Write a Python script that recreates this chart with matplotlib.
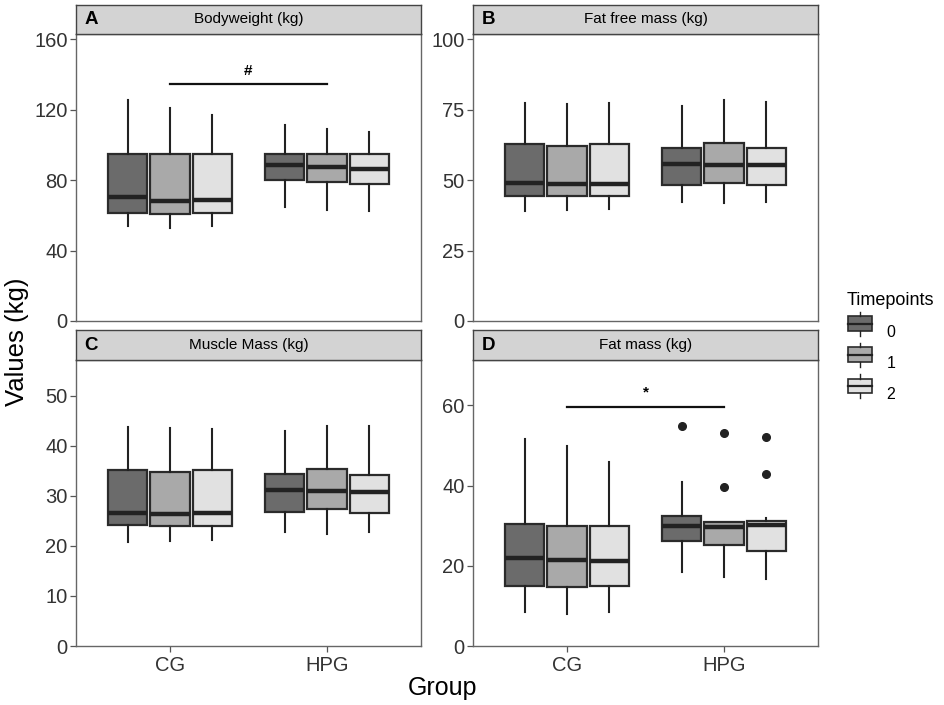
import matplotlib
matplotlib.use("Agg")
import matplotlib.pyplot as plt
from matplotlib.legend_handler import HandlerBase
from matplotlib.patches import Rectangle
from matplotlib.lines import Line2D

plt.rcParams['font.family'] = ['Liberation Sans', 'DejaVu Sans']

groups = ["CG", "HPG"]
timepoints = ["0", "1", "2"]
fills = ["#6b6b6b", "#a9a9a9", "#e1e1e1"]

# order of values: CG-0, CG-1, CG-2, HPG-0, HPG-1, HPG-2
bw_lo = [53.9, 52.8, 54.1, 64.5, 63.0, 62.2]
bw_q1 = [61.5, 60.7, 61.5, 80.2, 78.9, 77.9]
bw_med = [70.2, 68.3, 68.7, 88.7, 87.4, 86.6]
bw_q3 = [94.8, 95.1, 94.9, 94.9, 94.9, 95.1]
bw_hi = [125.4, 121.2, 116.9, 111.2, 108.9, 107.2]

ffm_lo = [38.9, 39.2, 39.7, 42.2, 41.8, 42.2]
ffm_q1 = [44.3, 44.2, 44.3, 48.2, 49.0, 48.2]
ffm_med = [48.9, 48.5, 48.7, 55.8, 55.3, 55.2]
ffm_q3 = [62.8, 62.1, 62.7, 61.5, 63.0, 61.3]
ffm_hi = [77.5, 76.9, 77.3, 76.1, 78.3, 77.8]

mm_lo = [20.7, 20.9, 21.2, 22.7, 22.4, 22.7]
mm_q1 = [24.1, 23.9, 24.0, 26.7, 27.3, 26.6]
mm_med = [26.6, 26.3, 26.5, 31.1, 30.9, 30.7]
mm_q3 = [35.2, 34.7, 35.2, 34.4, 35.4, 34.2]
mm_hi = [43.7, 43.6, 43.4, 42.9, 43.9, 43.9]

fm_lo = [8.6, 8.1, 8.4, 18.4, 17.3, 16.8]
fm_q1 = [15.0, 14.6, 14.9, 26.2, 25.1, 23.7]
fm_med = [22.0, 21.4, 21.1, 29.8, 29.7, 30.1]
fm_q3 = [30.3, 30.0, 30.0, 32.3, 30.8, 31.2]
fm_hi = [51.5, 49.9, 45.9, 41.0, 30.8, 31.8]
fm_out = [[], [], [], [54.9], [53.1, 39.7], [52.0, 42.9]]

panels = [
    ("A", "Bodyweight (kg)", (bw_lo, bw_q1, bw_med, bw_q3, bw_hi), None,
     163, [0, 40, 80, 120, 160], ("#", 134.6, 141.8)),
    ("B", "Fat free mass (kg)", (ffm_lo, ffm_q1, ffm_med, ffm_q3, ffm_hi), None,
     101.8, [0, 25, 50, 75, 100], None),
    ("C", "Muscle Mass (kg)", (mm_lo, mm_q1, mm_med, mm_q3, mm_hi), None,
     57.1, [0, 10, 20, 30, 40, 50], None),
    ("D", "Fat mass (kg)", (fm_lo, fm_q1, fm_med, fm_q3, fm_hi), fm_out,
     71.3, [0, 20, 40, 60], ("*", 59.6, 63.3)),
]

W, H = 945, 705
panel_px = [(76, 34, 421, 321, 5), (473, 34, 818, 321, 5),
            (76, 360, 421, 646, 330), (473, 360, 818, 646, 330)]

offsets = [-0.27, 0.0, 0.27]
edge = "#2b2b2b"

fig = plt.figure(figsize=(W / 100, H / 100), dpi=100)

for i, (letter, title, st, outs, ytop, yt, sig) in enumerate(panels):
    x0, y0, x1, y1, s0 = panel_px[i]
    ax = fig.add_axes([x0 / W, 1 - y1 / H, (x1 - x0) / W, (y1 - y0) / H])
    lo, q1, med, q3, hi = st
    for k in range(6):
        g, t = divmod(k, 3)
        stats = [dict(whislo=lo[k], q1=q1[k], med=med[k], q3=q3[k], whishi=hi[k],
                      fliers=outs[k] if outs else [])]
        ax.bxp(stats, positions=[g + 1 + offsets[t]], widths=0.25,
               patch_artist=True, showcaps=False,
               boxprops=dict(facecolor=fills[t], edgecolor=edge, linewidth=1.6),
               medianprops=dict(color="#222222", linewidth=3.2, solid_capstyle="butt"),
               whiskerprops=dict(color="#222222", linewidth=1.5),
               flierprops=dict(marker="o", markerfacecolor="#222222",
                               markeredgecolor="#222222", markersize=5.5))
    if sig:
        ax.plot([1, 2], [sig[1], sig[1]], color="#111111", lw=1.6)
        ax.text(1.5, sig[2], sig[0], ha="center", va="center", fontsize=11,
                fontweight="bold")
    ax.set_xlim(0.4, 2.6)
    ax.set_ylim(0, ytop)
    ax.set_yticks(yt)
    ax.set_yticklabels([str(v) for v in yt], fontsize=14.5, color="#333333")
    ax.tick_params(axis="y", length=4, color="#555555", width=0.9, pad=2)
    if i >= 2:
        ax.set_xticks([1, 2])
        ax.set_xticklabels(groups, fontsize=14.5, color="#333333")
        ax.tick_params(axis="x", length=4, color="#555555", width=0.9, pad=3)
    else:
        ax.set_xticks([])
    for sp in ax.spines.values():
        sp.set_color("#666666")
        sp.set_linewidth(1.0)

    sax = fig.add_axes([x0 / W, 1 - y0 / H, (x1 - x0) / W, (y0 - s0) / H])
    sax.set_facecolor("#d3d3d3")
    sax.set_xticks([])
    sax.set_yticks([])
    for sp in sax.spines.values():
        sp.set_color("#444444")
        sp.set_linewidth(1.0)
    sax.text(0.5, 0.5, title, ha="center", va="center", fontsize=11,
             transform=sax.transAxes)
    sax.text(0.025, 0.5, letter, ha="left", va="center", fontsize=13.5,
             fontweight="bold", transform=sax.transAxes)

fig.text(17 / W, 1 - 342 / H, "Values (kg)", rotation=90, ha="center",
         va="center", fontsize=18.5)
fig.text(443 / W, 1 - 688 / H, "Group", ha="center", va="center", fontsize=18)


class BoxKey(HandlerBase):
    def create_artists(self, legend, orig, xd, yd, width, height, fontsize, trans):
        fc = orig.get_facecolor()
        cx = xd + width / 2
        r = Rectangle((xd + 1, yd + height * 0.1), width - 2, height * 0.8,
                      facecolor=fc, edgecolor=edge, linewidth=1.2, transform=trans)
        m = Line2D([xd + 1, xd + width - 1], [yd + height / 2] * 2, color="#222222",
                   lw=1.6, transform=trans)
        w1 = Line2D([cx, cx], [yd + height * 0.9, yd + height * 1.15], color="#222222",
                    lw=1.0, transform=trans)
        w2 = Line2D([cx, cx], [yd - height * 0.15, yd + height * 0.1], color="#222222",
                    lw=1.0, transform=trans)
        return [r, m, w1, w2]


handles = [Rectangle((0, 0), 1, 1, facecolor=c) for c in fills]
leg = fig.legend(handles, timepoints, title="Timepoints", loc="upper left",
                 bbox_to_anchor=(832 / W, 1 - 278 / H), frameon=False,
                 handler_map={Rectangle: BoxKey()}, fontsize=11.5,
                 title_fontsize=13, handlelength=1.7, handleheight=1.4,
                 labelspacing=0.8, handletextpad=0.8)
leg._legend_box.align = "left"

fig.savefig("out.png", dpi=100)
